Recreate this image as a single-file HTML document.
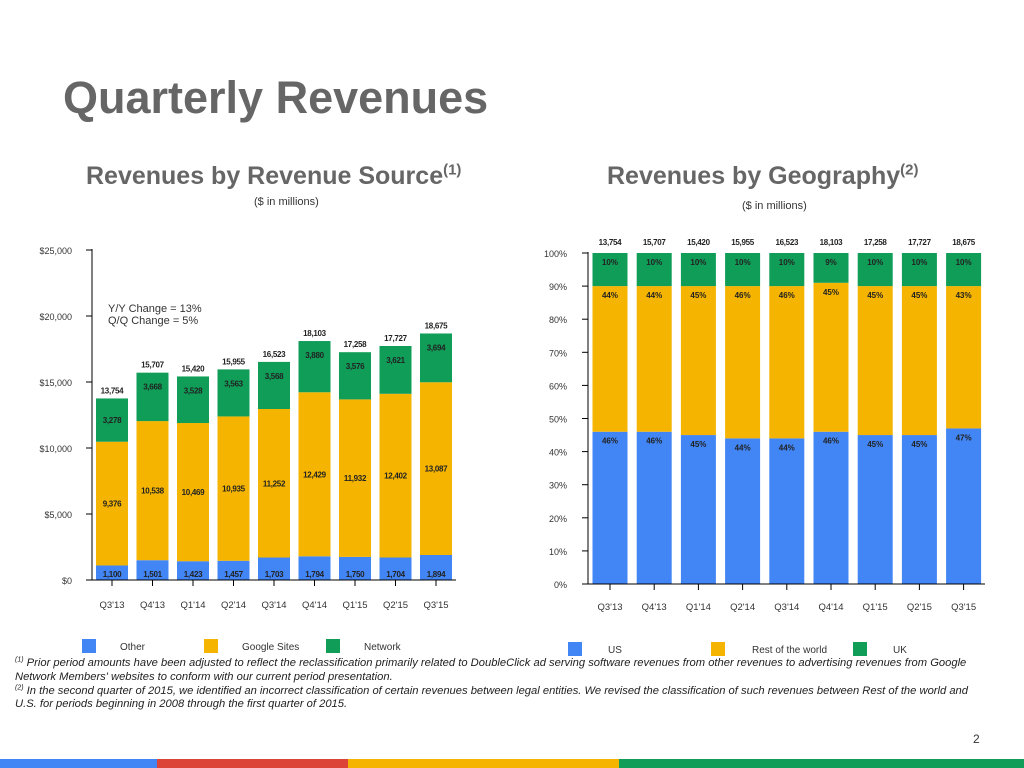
<!DOCTYPE html>
<html><head><meta charset="utf-8"><style>
body{margin:0;width:1024px;height:768px;background:#fff;font-family:"Liberation Sans",sans-serif;overflow:hidden;position:relative}
.t{position:absolute;white-space:nowrap}
sup{line-height:0}
</style></head><body>
<div class="t" style="left:63px;top:72px;font-size:45px;font-weight:bold;color:#666">Quarterly Revenues</div>
<div class="t" style="left:86px;top:162px;font-size:25px;font-weight:bold;color:#666">Revenues by Revenue Source<sup style="font-size:15px">(1)</sup></div>
<div class="t" style="left:254px;top:196px;font-size:11px;color:#333">($ in millions)</div>
<div class="t" style="left:607px;top:162px;font-size:25px;font-weight:bold;color:#666">Revenues by Geography<sup style="font-size:15px">(2)</sup></div>
<div class="t" style="left:742px;top:200px;font-size:11px;color:#333">($ in millions)</div>
<svg id="c" width="1024" height="768" style="position:absolute;left:0;top:0"></svg>
<div class="t" style="left:15px;top:657px;font-size:11.2px;font-style:italic;color:#222;line-height:13.8px;white-space:normal;width:972px"><sup style="font-size:7px">(1)</sup> Prior period amounts have been adjusted to reflect the reclassification primarily related to DoubleClick ad serving software revenues from other revenues to advertising revenues from Google Network Members' websites to conform with our current period presentation.<br><sup style="font-size:7px">(2)</sup> In the second quarter of 2015, we identified an incorrect classification of certain revenues between legal entities. We revised the classification of such revenues between Rest of the world and U.S. for periods beginning in 2008 through the first quarter of 2015.</div>
<div class="t" style="left:973px;top:732px;font-size:12px;color:#333">2</div>
<div style="position:absolute;left:0;top:759px;width:157px;height:9px;background:#4285f4"></div>
<div style="position:absolute;left:157px;top:759px;width:191px;height:9px;background:#db4437"></div>
<div style="position:absolute;left:348px;top:759px;width:271px;height:9px;background:#f4b400"></div>
<div style="position:absolute;left:619px;top:759px;width:405px;height:9px;background:#0f9d58"></div>
<script>
const categories=["Q3'13","Q4'13","Q1'14","Q2'14","Q3'14","Q4'14","Q1'15","Q2'15","Q3'15"];
const otherVals=[1100,1501,1423,1457,1703,1794,1750,1704,1894];
const sitesVals=[9376,10538,10469,10935,11252,12429,11932,12402,13087];
const networkVals=[3278,3668,3528,3563,3568,3880,3576,3621,3694];
const totals=[13754,15707,15420,15955,16523,18103,17258,17727,18675];
const usPct=[46,46,45,44,44,46,45,45,47];
const rowPct=[44,44,45,46,46,45,45,45,43];
const ukPct=[10,10,10,10,10,9,10,10,10];
const leftTicks=[0,5000,10000,15000,20000,25000];
const leftTickLabels=["$0","$5,000","$10,000","$15,000","$20,000","$25,000"];
const rightTicks=[0,10,20,30,40,50,60,70,80,90,100];
const BLUE="#4285f4",YEL="#f4b400",GRN="#0f9d58";
const svg=document.getElementById('c');
const NS="http://www.w3.org/2000/svg";
function mk(t,a,txt){const e=document.createElementNS(NS,t);for(const k in a)e.setAttribute(k,a[k]);if(txt!==undefined)e.textContent=txt;svg.appendChild(e);return e;}
const fmt=v=>v.toLocaleString('en-US');
// left chart
const lx=i=>112+i*40.5, ly=v=>580-v*330/25000;
leftTicks.forEach((t,i)=>{
 const l=mk('line',{x1:86,x2:92,y1:ly(t),y2:ly(t),stroke:'#000'});
 
 const tx=mk('text',{x:72,y:ly(t)+4,'text-anchor':'end','font-size':9,fill:'#333'},leftTickLabels[i]);
 
});
categories.forEach((c,i)=>{
 const x=lx(i)-16,w=32;
 let base=0;
 [[otherVals,BLUE,'other'],[sitesVals,YEL,'sites'],[networkVals,GRN,'network']].forEach(([arr,col,n])=>{
  const v=arr[i];
  const r=mk('rect',{x:x,y:ly(base+v),width:w,height:ly(base)-ly(base+v),fill:col});
  
  const ty=n==='other'?ly(base)-3:ly(base+v/2)+3;
  const tx=mk('text',{x:lx(i),y:n==='network'&&i>=1?ly(base+v)+17:ty,'text-anchor':'middle','font-size':8,'font-weight':'bold',fill:'#222','letter-spacing':'-0.3'},fmt(v));
  
  base+=v;
 });
 const tt=mk('text',{x:lx(i),y:ly(totals[i])-5,'text-anchor':'middle','font-size':8,'font-weight':'bold',fill:'#222','letter-spacing':'-0.3'},fmt(totals[i]));
 
 const tk=mk('line',{x1:lx(i),x2:lx(i),y1:580,y2:586,stroke:'#000'});
 
 const xl=mk('text',{x:lx(i),y:608,'text-anchor':'middle','font-size':9.5,fill:'#333'},c);
 
});
let a1=mk('line',{x1:92,x2:92,y1:249,y2:580,stroke:'#000'});
let a2=mk('line',{x1:92,x2:456,y1:580,y2:580,stroke:'#000'});
let n1=mk('text',{x:108,y:312,'font-size':11,fill:'#333'},'Y/Y Change = 13%');
let n2=mk('text',{x:108,y:324,'font-size':11,fill:'#333'},'Q/Q Change = 5%');
// right chart
const rx=i=>610+i*44.2, ry=p=>584-p*3.31;
rightTicks.forEach(t=>{
 const l=mk('line',{x1:582,x2:588,y1:ry(t),y2:ry(t),stroke:'#000'});
 
 const tx=mk('text',{x:567,y:ry(t)+4,'text-anchor':'end','font-size':9,fill:'#333'},t+'%');
 
});
categories.forEach((c,i)=>{
 const x=rx(i)-17.5,w=35;let base=0;
 [[usPct,BLUE,'us'],[rowPct,YEL,'rest-of-world'],[ukPct,GRN,'uk']].forEach(([arr,col,n])=>{
  const v=arr[i];
  const r=mk('rect',{x:x,y:ry(base+v),width:w,height:ry(base)-ry(base+v),fill:col});
  
  const tx=mk('text',{x:rx(i),y:ry(base+v)+12,'text-anchor':'middle','font-size':8,'font-weight':'bold',fill:'#222'},v+'%');
  
  base+=v;
 });
 const tt=mk('text',{x:rx(i),y:245,'text-anchor':'middle','font-size':8,'font-weight':'bold',fill:'#222','letter-spacing':'-0.3'},fmt(totals[i]));
 
 const tk=mk('line',{x1:rx(i),x2:rx(i),y1:584,y2:590,stroke:'#000'});
 
 const xl=mk('text',{x:rx(i),y:610,'text-anchor':'middle','font-size':9.5,fill:'#333'},c);
 
});
let a3=mk('line',{x1:588,x2:588,y1:252,y2:584,stroke:'#000'});
let a4=mk('line',{x1:588,x2:985,y1:584,y2:584,stroke:'#000'});
// legends
const legLabels=[["Other",BLUE,82,120],["Google Sites",YEL,204,242],["Network",GRN,326,364],["US",BLUE,568,608],["Rest of the world",YEL,711,752],["UK",GRN,853,893]];
legLabels.forEach(([t,col,sx,tx],i)=>{
 const y=i<3?639:642;
 const r=mk('rect',{x:sx,y:y,width:14,height:14,fill:col});
 
 const l=mk('text',{x:tx,y:y+11,'font-size':10,fill:'#333'},t);
 
});
</script>
</body></html>
